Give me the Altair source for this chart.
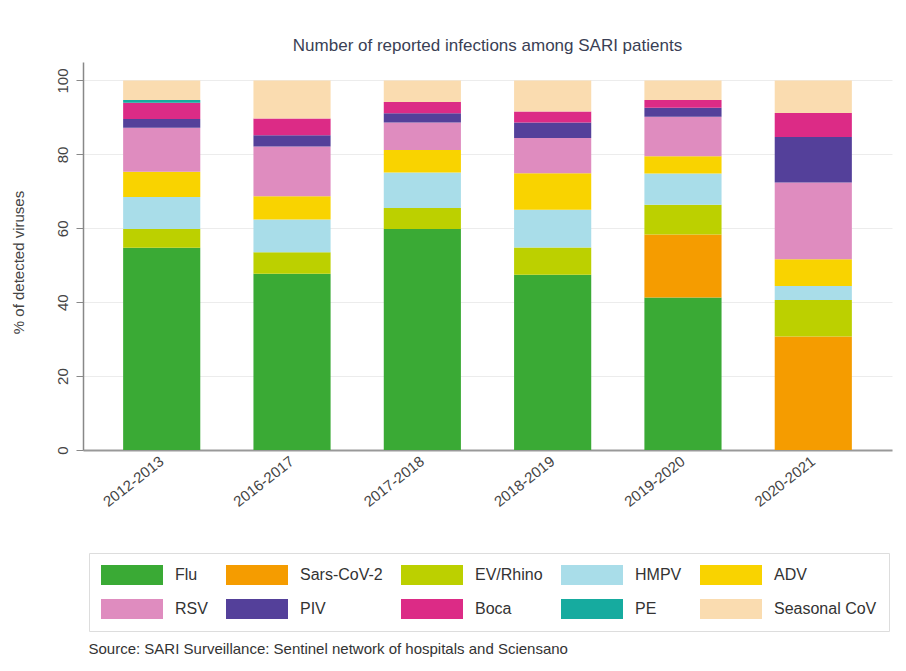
import altair as alt
import pandas as pd

seasons = ["2012-2013", "2016-2017", "2017-2018", "2018-2019", "2019-2020", "2020-2021"]
viruses = ["Flu", "Sars-CoV-2", "EV/Rhino", "HMPV", "ADV", "RSV", "PIV", "Boca", "PE", "Seasonal CoV"]
colors = ["#3aaa35", "#f59c00", "#bcd000", "#a9dde9", "#f9d300",
          "#df8cbf", "#54409a", "#dc2b86", "#16ab9f", "#fadcb0"]

flu = [54.7, 47.7, 59.8, 47.4, 41.3, 0.0]
sars = [0.0, 0.0, 0.0, 0.0, 17.0, 30.7]
ev = [5.1, 5.8, 5.7, 7.4, 8.1, 9.9]
hmpv = [8.7, 8.9, 9.6, 10.2, 8.4, 3.8]
adv = [6.8, 6.3, 6.1, 9.9, 4.7, 7.2]
rsv = [11.9, 13.4, 7.4, 9.5, 10.7, 20.8]
piv = [2.4, 3.1, 2.5, 4.2, 2.4, 12.3]
boca = [4.4, 4.5, 3.1, 3.0, 2.1, 6.5]
pe = [0.7, 0.0, 0.0, 0.0, 0.0, 0.0]
seasonal_cov = [5.3, 10.3, 5.8, 8.4, 5.3, 8.8]

series = [flu, sars, ev, hmpv, adv, rsv, piv, boca, pe, seasonal_cov]

rows = []
for vi, (name, vals) in enumerate(zip(viruses, series)):
    for season, v in zip(seasons, vals):
        rows.append({"season": season, "virus": name, "order": vi, "pct": v})
df = pd.DataFrame(rows)

FONT = "Liberation Sans"
TXT = "#444444"

chart = alt.Chart(df).mark_bar().encode(
    x=alt.X("season:N", sort=seasons,
            scale=alt.Scale(paddingInner=0.408, paddingOuter=0.308),
            axis=alt.Axis(title="Source: SARI Surveillance: Sentinel network of hospitals and Sciensano",
                          titleFont=FONT, titleFontSize=15, titleFontWeight="normal",
                          titleColor="#333333", titleAnchor="start", titleAlign="left",
                          titleX=5, titleY=198, titleBaseline="middle",
                          labelAngle=322, labelAlign="right", labelBaseline="middle",
                          labelPadding=9, labelFont=FONT, labelFontSize=15, labelColor=TXT,
                          ticks=False, domainColor="#999999", domainWidth=2, grid=False)),
    y=alt.Y("pct:Q", stack="zero",
            scale=alt.Scale(domain=[0, 105], nice=False),
            axis=alt.Axis(title="% of detected viruses", values=[0, 20, 40, 60, 80, 100],
                          titleFont=FONT, titleFontSize=15, titleFontWeight="normal",
                          titleColor=TXT, titleAngle=270, titleAlign="center",
                          titleBaseline="bottom", titleX=-57, titleY=200,
                          labelAngle=270, labelAlign="center", labelBaseline="bottom",
                          labelPadding=6, labelFont=FONT, labelFontSize=15, labelColor=TXT,
                          tickSize=7, tickColor="#888888", domainColor="#888888",
                          domainWidth=1.5, gridColor="#ececec", gridWidth=1)),
    color=alt.Color("virus:N", sort=viruses,
                    scale=alt.Scale(domain=viruses, range=colors),
                    legend=alt.Legend(title=None, orient="none", legendX=6, legendY=491,
                                      direction="horizontal", columns=5,
                                      symbolType="M-1,-0.32H1V0.32H-1Z", symbolSize=3844,
                                      symbolStrokeWidth=0, clipHeight=20,
                                      labelFont=FONT, labelFontSize=16, labelColor="#333333",
                                      labelOffset=12, columnPadding=18, rowPadding=14,
                                      padding=12, strokeColor="#dddddd", fillColor="#ffffff",
                                      labelLimit=200)),
    order=alt.Order("order:Q", sort="ascending"),
).properties(
    width=809, height=388,
    title=alt.Title("Number of reported infections among SARI patients",
                    font=FONT, fontSize=17, fontWeight="normal", color="#3a3f55",
                    anchor="middle", offset=7),
    autosize=alt.AutoSizeParams(type="none"),
    padding={"left": 75, "top": 54, "right": 6, "bottom": 213},
).configure_view(strokeOpacity=0)

chart.save("out.html", embed_options={"renderer": "svg", "actions": False})
